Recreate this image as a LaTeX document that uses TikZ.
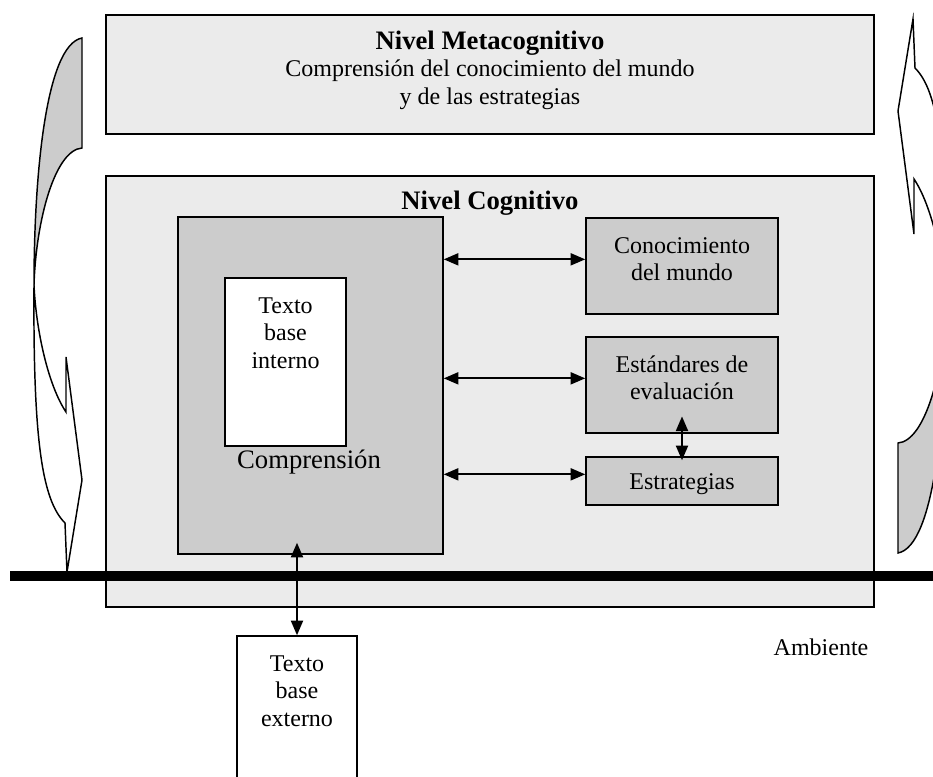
\documentclass[tikz,border=0pt]{standalone}
\usepackage{fontspec}
\setmainfont{Liberation Serif}
\usetikzlibrary{arrows.meta}
\definecolor{fondo}{HTML}{EBEBEB}
\definecolor{gris}{HTML}{CCCCCC}
% flecha curva del lado izquierdo (la derecha es la misma girada)
\newcommand{\flechacurva}{%
  \filldraw[fill=gris] (82,38) .. controls (45,45) and (34,180) .. (34,285)
    .. controls (36,220) and (55,150) .. (82,148) -- cycle;
  \filldraw[fill=white] (34,285) .. controls (33,440) and (42,500) .. (65,523)
    -- (67,572) -- (82,480) -- (66,357) -- (66,412)
    .. controls (48,385) and (36,330) .. (34,285) -- cycle;}

\begin{document}
\begin{tikzpicture}[x=0.75pt,y=-0.75pt,line join=miter,
	every node/.style={font=\fontsize{18}{20.5}\selectfont},
	caja/.style={draw,line width=1.1pt,inner sep=0pt},
	cajaclara/.style={caja,fill=fondo},
	cajagris/.style={caja,fill=gris},
	cajablanca/.style={caja,fill=white},
	titulo/.style={font=\fontsize{20}{24}\selectfont\bfseries},
	enlace/.style={line width=1.5pt,{Triangle[length=11pt,width=9pt]}-{Triangle[length=11pt,width=9pt]}}]
	\useasboundingbox (0,0) rectangle (933,776);
	\clip (0,0) rectangle (933,776);
	% niveles
	\node[cajaclara,minimum width=576pt,minimum height=89.25pt] (meta) at (490,74.5) {};
	\node[align=center] (metatxt) at (490,70) {{\fontsize{20}{24}\selectfont\bfseries Nivel Metacognitivo}\\Comprensión del conocimiento del mundo\\y de las estrategias};
	\node[cajaclara,minimum width=576pt,minimum height=323.25pt] (cog) at (490,391.5) {};
	\node[titulo] (cogtxt) at (490,203) {Nivel Cognitivo};
	% cajas internas
	\node[cajagris,minimum width=198.75pt,minimum height=252.75pt] (compr) at (310.5,385.5) {};
	\node[cajablanca,minimum width=90.75pt,minimum height=126pt] (interno) at (285.5,362) {};
	\node[align=center] (internotxt) at (285.5,333) {Texto\\base\\interno};
	\node[font=\fontsize{20}{24}\selectfont] (comprtxt) at (309,462) {Comprensión};
	\node[cajagris,minimum width=144pt,minimum height=72pt] (mundo) at (682,266) {};
	\node[align=center] (mundotxt) at (682,259) {Conocimiento\\del mundo};
	\node[cajagris,minimum width=144pt,minimum height=72pt] (evalu) at (682,385) {};
	\node[align=center] (evalutxt) at (682,378) {Estándares de\\evaluación};
	\node[cajagris,minimum width=144pt,minimum height=36pt] (estrat) at (682,481) {};
	\node (estrattxt) at (682,484) {Estrategias};
	\node[cajablanca,minimum width=90pt,minimum height=123pt] (externo) at (297,718) {};
	\node[align=center] (externotxt) at (297,691) {Texto\\base\\externo};
	\node (ambiente) at (821,647) {Ambiente};
	% linea del ambiente
	\draw[line width=7.5pt] (10,576) -- (933,576);
	% flechas
	\draw[enlace] ([yshift=5pt]mundo.west -| compr.east) -- ([yshift=5pt]mundo.west);
	\draw[enlace] ([yshift=5pt]evalu.west -| compr.east) -- ([yshift=5pt]evalu.west);
	\draw[enlace] ([yshift=5pt]estrat.west -| compr.east) -- ([yshift=5pt]estrat.west);
	\draw[enlace] ([yshift=13pt]evalu.south) -- ([yshift=-3pt]estrat.north);
	\draw[enlace] ([yshift=9pt]externo.north |- compr.south) -- (externo.north);
	% flechas curvas
	\begin{scope}[line width=1.1pt]
		\flechacurva
	\end{scope}
	\begin{scope}[line width=1.1pt,rotate around={180:(490,295.5)}]
		\flechacurva
	\end{scope}
\end{tikzpicture}
\end{document}
